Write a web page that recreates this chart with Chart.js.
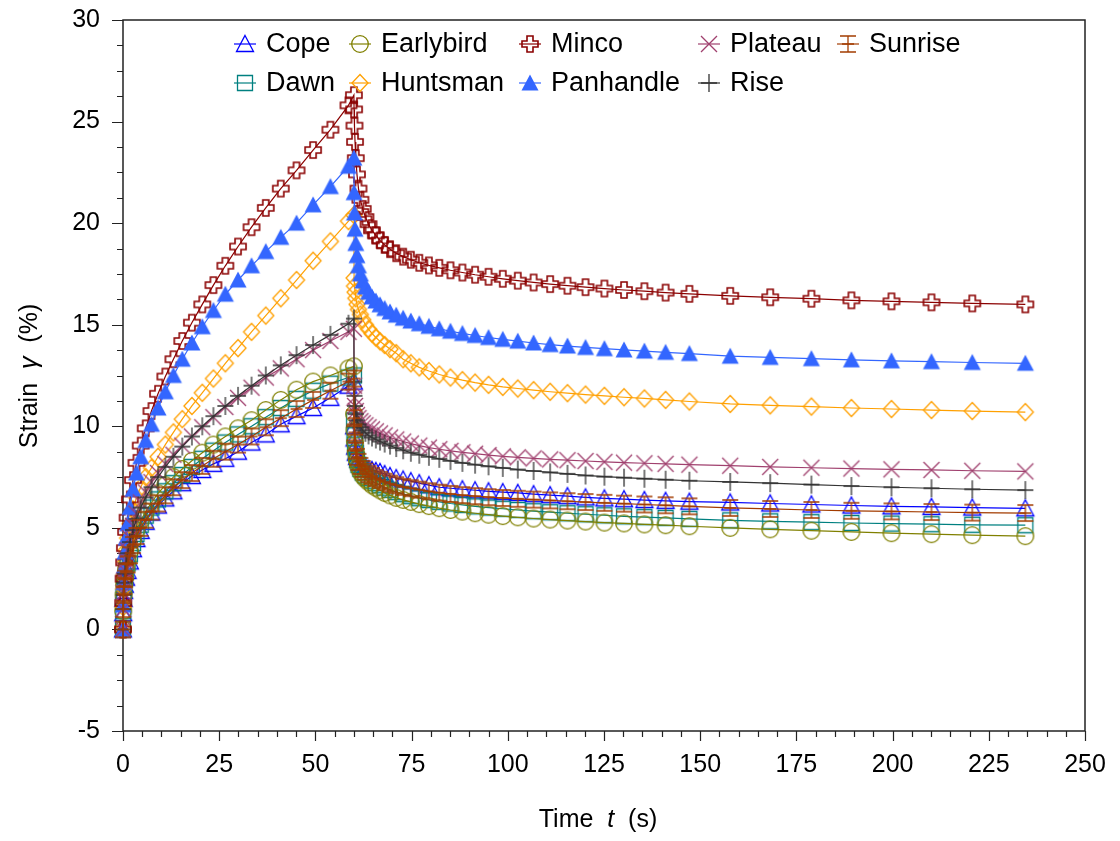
<!DOCTYPE html>
<html>
<head>
<meta charset="utf-8">
<script src="https://cdn.jsdelivr.net/npm/chart.js@4.4.1/dist/chart.umd.min.js"></script>
<style>
  html, body { margin: 0; padding: 0; background: #fff; }
  #myChart { display: block; }
</style>
</head>
<body>
<canvas id="myChart" width="1120" height="841"></canvas>
<script>
  // sample times (s): creep phase, then recovery after the load is removed at 60 s
  const timeCreep = [0, 0.05, 0.15, 0.3, 0.5, 0.8, 1.2, 1.8, 2.6, 3.5, 4.6, 5.9, 7.4, 9.1, 11, 13.1, 15.4, 17.9,
    20.6, 23.5, 26.6, 29.9, 33.4, 37.1, 41, 45.1, 49.4, 53.9, 58.6, 60];
  const timeRecovery = [60.05, 60.15, 60.3, 60.5, 60.8, 61.2, 61.7, 62.3, 63, 63.8, 64.7, 65.7, 66.8, 68, 69.4,
    71, 72.8, 74.8, 77, 79.5, 82.2, 85.1, 88.2, 91.5, 95, 98.7, 102.6, 106.7, 111, 115.5, 120.2, 125.1, 130.2,
    135.5, 141, 147.2, 157.8, 168.2, 178.9, 189.3, 199.7, 210.1, 220.7, 234.5];

  // strain (%) per variety
  const copeCreep = [0, 0.8, 1.5, 1.9, 2.2, 2.55, 2.88, 3.35, 3.95, 4.45, 4.85, 5.3, 5.75, 6.1, 6.45, 6.8, 7.2, 7.55,
    7.85, 8.15, 8.4, 8.75, 9.2, 9.6, 10.1, 10.5, 10.9, 11.4, 12.0, 12.2];
  const copeRecovery = [10.0, 9.4, 9.0, 8.7, 8.5, 8.35, 8.2, 8.1, 8.0, 7.9, 7.85, 7.8, 7.75, 7.65, 7.55, 7.45, 7.38,
    7.3, 7.2, 7.1, 7.0, 6.95, 6.9, 6.85, 6.8, 6.76, 6.72, 6.66, 6.61, 6.56, 6.5, 6.45, 6.41, 6.37, 6.33, 6.29, 6.25,
    6.2, 6.15, 6.1, 6.06, 6.03, 6.0, 5.96];

  const dawnCreep = [0, 0.9, 1.6, 2.1, 2.45, 2.85, 3.25, 3.7, 4.25, 4.7, 5.15, 5.6, 6.0, 6.4, 6.8, 7.2, 7.6, 8.0,
    8.4, 8.8, 9.2, 9.6, 10.0, 10.45, 10.9, 11.35, 11.75, 12.1, 12.4, 12.5];
  const dawnRecovery = [10.3, 9.6, 9.1, 8.7, 8.35, 8.1, 7.9, 7.72, 7.58, 7.45, 7.32, 7.2, 7.1, 6.98, 6.87, 6.76,
    6.66, 6.56, 6.46, 6.37, 6.28, 6.2, 6.13, 6.06, 6.0, 5.94, 5.88, 5.82, 5.77, 5.72, 5.67, 5.62, 5.57, 5.53, 5.49,
    5.44, 5.37, 5.32, 5.28, 5.24, 5.21, 5.18, 5.15, 5.13];

  const earlybirdCreep = [0, 0.9, 1.7, 2.2, 2.55, 2.95, 3.35, 3.85, 4.4, 4.9, 5.35, 5.8, 6.25, 6.7, 7.1, 7.5, 7.9,
    8.3, 8.7, 9.1, 9.5, 9.9, 10.3, 10.8, 11.3, 11.8, 12.2, 12.5, 12.85, 12.95];
  const earlybirdRecovery = [10.6, 9.8, 9.2, 8.7, 8.3, 8.0, 7.75, 7.55, 7.4, 7.25, 7.1, 6.98, 6.85, 6.72, 6.6, 6.48,
    6.38, 6.28, 6.17, 6.07, 5.97, 5.88, 5.8, 5.72, 5.65, 5.58, 5.52, 5.46, 5.41, 5.36, 5.31, 5.26, 5.22, 5.17, 5.13,
    5.08, 5.0, 4.93, 4.86, 4.8, 4.74, 4.69, 4.64, 4.59];

  const huntsmanCreep = [0, 1.1, 2.0, 2.7, 3.3, 3.9, 4.5, 5.2, 5.9, 6.5, 7.0, 7.5, 7.95, 8.5, 9.1, 9.7, 10.35, 11.0,
    11.65, 12.35, 13.1, 13.85, 14.65, 15.45, 16.3, 17.2, 18.15, 19.1, 20.1, 20.4];
  const huntsmanRecovery = [17.3, 16.9, 16.6, 16.3, 16.0, 15.75, 15.5, 15.25, 15.0, 14.78, 14.57, 14.37, 14.18, 14.0,
    13.8, 13.6, 13.3, 13.1, 12.9, 12.72, 12.55, 12.4, 12.27, 12.15, 12.04, 11.94, 11.86, 11.78, 11.7, 11.63, 11.56,
    11.5, 11.43, 11.37, 11.3, 11.22, 11.1, 11.03, 10.97, 10.9, 10.85, 10.8, 10.75, 10.7];

  const mincoCreep = [0, 1.3, 2.5, 3.3, 4.0, 4.8, 5.5, 6.4, 7.35, 8.2, 9.05, 9.9, 10.75, 11.6, 12.45, 13.3, 14.2,
    15.1, 16.0, 16.95, 17.9, 18.85, 19.8, 20.75, 21.7, 22.6, 23.6, 24.6, 25.8, 26.3];
  const mincoRecovery = [25.6, 24.8, 24.0, 23.2, 22.4, 21.7, 21.15, 20.7, 20.3, 19.95, 19.65, 19.4, 19.15, 18.93,
    18.72, 18.52, 18.35, 18.2, 18.05, 17.92, 17.8, 17.68, 17.57, 17.46, 17.36, 17.26, 17.17, 17.08, 17.0, 16.92,
    16.85, 16.78, 16.71, 16.65, 16.58, 16.52, 16.42, 16.35, 16.28, 16.2, 16.15, 16.1, 16.05, 16.0];

  const panhandleCreep = [0, 1.2, 2.3, 3.1, 3.8, 4.5, 5.2, 6.0, 6.9, 7.7, 8.5, 9.3, 10.1, 10.9, 11.7, 12.5, 13.3,
    14.1, 14.9, 15.7, 16.5, 17.2, 17.9, 18.6, 19.3, 20.0, 20.9, 21.8, 22.8, 23.2];
  const panhandleRecovery = [21.5, 20.5, 19.7, 19.0, 18.4, 17.9, 17.5, 17.15, 16.85, 16.6, 16.37, 16.17, 15.98, 15.8,
    15.63, 15.47, 15.32, 15.18, 15.05, 14.92, 14.8, 14.68, 14.57, 14.47, 14.37, 14.28, 14.19, 14.1, 14.02, 13.95,
    13.88, 13.82, 13.76, 13.7, 13.64, 13.58, 13.45, 13.39, 13.33, 13.27, 13.22, 13.18, 13.14, 13.1];

  const plateauCreep = [0, 1.0, 1.8, 2.4, 2.9, 3.4, 3.9, 4.5, 5.1, 5.7, 6.25, 6.75, 7.25, 7.7, 8.15, 8.6, 9.05, 9.5,
    9.95, 10.45, 10.95, 11.4, 11.9, 12.4, 12.85, 13.3, 13.75, 14.2, 14.65, 14.8];
  const plateauRecovery = [12.0, 11.4, 11.0, 10.75, 10.55, 10.4, 10.25, 10.15, 10.05, 9.95, 9.85, 9.75, 9.65, 9.55,
    9.45, 9.35, 9.25, 9.15, 9.05, 8.95, 8.87, 8.79, 8.72, 8.65, 8.58, 8.52, 8.47, 8.42, 8.37, 8.33, 8.29, 8.25, 8.21,
    8.18, 8.15, 8.11, 8.06, 8.0, 7.96, 7.92, 7.88, 7.85, 7.81, 7.78];

  const riseCreep = [0, 1.0, 1.7, 2.3, 2.75, 3.25, 3.75, 4.3, 4.9, 5.45, 6.0, 6.5, 7.0, 7.5, 8.0, 8.5, 9.0, 9.5, 10.0,
    10.5, 11.0, 11.5, 12.0, 12.5, 13.0, 13.5, 14.0, 14.5, 15.05, 15.3];
  const riseRecovery = [12.2, 11.5, 11.0, 10.6, 10.3, 10.1, 9.95, 9.8, 9.68, 9.55, 9.45, 9.35, 9.25, 9.15, 9.05, 8.93,
    8.82, 8.7, 8.6, 8.5, 8.4, 8.3, 8.2, 8.11, 8.03, 7.95, 7.87, 7.8, 7.73, 7.66, 7.58, 7.52, 7.47, 7.42, 7.37, 7.32,
    7.26, 7.2, 7.13, 7.06, 7.0, 6.95, 6.9, 6.86];

  const sunriseCreep = [0, 1.0, 1.7, 2.15, 2.5, 2.85, 3.2, 3.65, 4.15, 4.6, 5.0, 5.4, 5.8, 6.2, 6.6, 7.0, 7.35, 7.7,
    8.05, 8.4, 8.75, 9.1, 9.5, 9.95, 10.4, 10.85, 11.3, 11.75, 12.2, 12.35];
  const sunriseRecovery = [10.4, 9.7, 9.2, 8.8, 8.5, 8.25, 8.05, 7.9, 7.77, 7.65, 7.55, 7.45, 7.36, 7.27, 7.18, 7.1,
    7.02, 6.95, 6.88, 6.8, 6.73, 6.67, 6.61, 6.56, 6.51, 6.47, 6.43, 6.39, 6.35, 6.31, 6.27, 6.23, 6.19, 6.15, 6.11,
    6.06, 5.98, 5.93, 5.88, 5.84, 5.81, 5.78, 5.75, 5.73];

  const xTicks = [0, 25, 50, 75, 100, 125, 150, 175, 200, 225, 250];
  const yTicks = [-5, 0, 5, 10, 15, 20, 25, 30];

  const FONT = '"Liberation Sans", Arial, sans-serif';

  // hand drawn markers, the built-in point styles don't have all of these
  function marker(kind, color) {
    const s = 22, m = s / 2, r = 8;
    const c = document.createElement('canvas');
    c.width = s; c.height = s;
    const g = c.getContext('2d');
    g.strokeStyle = color;
    g.fillStyle = color;
    g.lineWidth = 1.3;
    g.beginPath();
    if (kind === 'tri' || kind === 'triFill') {
      g.moveTo(m, m - r - 0.5);
      g.lineTo(m + r + 0.5, m + r - 0.5);
      g.lineTo(m - r - 0.5, m + r - 0.5);
      g.closePath();
      if (kind === 'triFill') g.fill(); else g.stroke();
    } else if (kind === 'circle') {
      g.arc(m, m, r + 0.3, 0, Math.PI * 2);
      g.stroke();
    } else if (kind === 'square') {
      g.rect(m - 7.5, m - 7.5, 15, 15);
      g.stroke();
    } else if (kind === 'diamond') {
      g.moveTo(m, m - r - 0.5);
      g.lineTo(m + r, m);
      g.lineTo(m, m + r + 0.5);
      g.lineTo(m - r, m);
      g.closePath();
      g.stroke();
    } else if (kind === 'plusHollow') {
      const a = 3;
      g.moveTo(m - a, m - r); g.lineTo(m + a, m - r); g.lineTo(m + a, m - a); g.lineTo(m + r, m - a);
      g.lineTo(m + r, m + a); g.lineTo(m + a, m + a); g.lineTo(m + a, m + r); g.lineTo(m - a, m + r);
      g.lineTo(m - a, m + a); g.lineTo(m - r, m + a); g.lineTo(m - r, m - a); g.lineTo(m - a, m - a);
      g.closePath();
      g.lineWidth = 1.6;
      g.stroke();
    } else if (kind === 'cross') {
      g.moveTo(m - r, m - r); g.lineTo(m + r, m + r);
      g.moveTo(m + r, m - r); g.lineTo(m - r, m + r);
      g.stroke();
    } else if (kind === 'plus') {
      g.moveTo(m, m - 9); g.lineTo(m, m + 9);
      g.moveTo(m - 8, m); g.lineTo(m + 8, m);
      g.stroke();
    } else if (kind === 'ibeam') {
      g.moveTo(m - 8, m - 8); g.lineTo(m + 8, m - 8);
      g.moveTo(m - 8, m + 8); g.lineTo(m + 8, m + 8);
      g.moveTo(m, m - 8); g.lineTo(m, m + 8);
      g.moveTo(m - 6, m); g.lineTo(m + 6, m);
      g.stroke();
    }
    return c;
  }

  function series(creep, recovery) {
    const pts = creep.map((v, i) => ({ x: timeCreep[i], y: v }));
    return pts.concat(recovery.map((v, i) => ({ x: timeRecovery[i], y: v })));
  }

  // legend slot: [column, row]
  const varieties = [
    { label: 'Cope', color: '#0000ff', shape: 'tri', creep: copeCreep, rec: copeRecovery, slot: [0, 0] },
    { label: 'Dawn', color: '#008080', shape: 'square', creep: dawnCreep, rec: dawnRecovery, slot: [0, 1] },
    { label: 'Earlybird', color: '#808000', shape: 'circle', creep: earlybirdCreep, rec: earlybirdRecovery, slot: [1, 0] },
    { label: 'Huntsman', color: '#ffa000', shape: 'diamond', creep: huntsmanCreep, rec: huntsmanRecovery, slot: [1, 1] },
    { label: 'Minco', color: '#8b0000', shape: 'plusHollow', creep: mincoCreep, rec: mincoRecovery, slot: [2, 0] },
    { label: 'Panhandle', color: '#3366ff', shape: 'triFill', creep: panhandleCreep, rec: panhandleRecovery, slot: [2, 1] },
    { label: 'Plateau', color: '#a0406e', shape: 'cross', creep: plateauCreep, rec: plateauRecovery, slot: [3, 0] },
    { label: 'Rise', color: '#333333', shape: 'plus', creep: riseCreep, rec: riseRecovery, slot: [3, 1] },
    { label: 'Sunrise', color: '#a33c00', shape: 'ibeam', creep: sunriseCreep, rec: sunriseRecovery, slot: [4, 0] }
  ];
  varieties.forEach(v => { v.img = marker(v.shape, v.color); });

  const legendCols = [245, 360, 530, 709, 848];
  const legendRows = [44, 83];

  const decor = {
    id: 'decor',
    beforeDatasetsDraw(chart) {
      const { ctx, chartArea: a, scales: { x, y } } = chart;
      ctx.save();
      ctx.strokeStyle = '#222';
      ctx.lineWidth = 1.5;
      ctx.strokeRect(a.left, a.top, a.right - a.left, a.bottom - a.top);
      ctx.lineWidth = 1.2;
      ctx.beginPath();
      for (let v = 0; v <= 250; v += 5) {
        const px = Math.round(x.getPixelForValue(v)) + 0.5;
        const len = v % 25 === 0 ? 10 : 6;
        ctx.moveTo(px, a.bottom);
        ctx.lineTo(px, a.bottom + len);
      }
      for (let k = 0; k <= 28; k++) {
        const v = -5 + k * 1.25;
        const py = Math.round(y.getPixelForValue(v)) + 0.5;
        const len = k % 4 === 0 ? 11 : 6;
        ctx.moveTo(a.left, py);
        ctx.lineTo(a.left - len, py);
      }
      ctx.stroke();
      ctx.restore();
    },
    afterDraw(chart) {
      const ctx = chart.ctx;
      ctx.save();
      ctx.fillStyle = '#000';
      ctx.textBaseline = 'middle';

      // legend
      varieties.forEach(v => {
        const cx = legendCols[v.slot[0]], cy = legendRows[v.slot[1]];
        ctx.strokeStyle = v.color;
        ctx.lineWidth = 1.2;
        ctx.beginPath();
        ctx.moveTo(cx - 11, cy);
        ctx.lineTo(cx + 11, cy);
        ctx.stroke();
        ctx.drawImage(v.img, cx - v.img.width / 2, cy - v.img.height / 2);
        ctx.font = '27px ' + FONT;
        ctx.textAlign = 'left';
        ctx.fillText(v.label, cx + 21, cy + 1);
      });

      // axis titles with italic symbols
      const drawParts = (parts, cx, cy) => {
        let w = 0;
        parts.forEach(p => { ctx.font = p[1] + '25px ' + FONT; w += ctx.measureText(p[0]).width; });
        let px = cx - w / 2;
        ctx.textAlign = 'left';
        parts.forEach(p => {
          ctx.font = p[1] + '25px ' + FONT;
          ctx.fillText(p[0], px, cy);
          px += ctx.measureText(p[0]).width;
        });
      };
      drawParts([['Time  ', ''], ['t', 'italic '], ['  (s)', '']], 598, 820);
      ctx.translate(30, 376);
      ctx.rotate(-Math.PI / 2);
      drawParts([['Strain  ', ''], ['\u03b3', 'italic '], ['  (%)', '']], 0, 0);
      ctx.restore();
    }
  };

  // invisible tick marks that only reserve room for the labels (real ticks come from the decor plugin)
  const hiddenGrid = (len) => ({
    display: true, drawOnChartArea: false, drawTicks: true, tickLength: len,
    color: 'rgba(0,0,0,0)', tickColor: 'rgba(0,0,0,0)'
  });

  const ctx = document.getElementById('myChart').getContext('2d');

  const myChart = new Chart(ctx, {
    type: 'line',
    data: {
      datasets: varieties.map((v, i) => ({
        label: v.label,
        data: series(v.creep, v.rec),
        borderColor: v.color,
        backgroundColor: v.color,
        borderWidth: 1.2,
        pointStyle: v.img,
        pointRadius: 8,
        tension: 0,
        clip: false,
        order: varieties.length - 1 - i
      }))
    },
    options: {
      responsive: false,
      animation: false,
      events: [],
      layout: { padding: { left: 0, right: 35, top: 20, bottom: 0 } },
      plugins: { legend: { display: false }, tooltip: { enabled: false } },
      scales: {
        x: {
          type: 'linear',
          min: 0,
          max: 250,
          afterBuildTicks: s => { s.ticks = xTicks.map(v => ({ value: v })); },
          afterFit: s => { s.height = 110; },
          ticks: { color: '#000', font: { family: FONT, size: 25 }, padding: 2, maxRotation: 0 },
          grid: hiddenGrid(17),
          border: { display: false }
        },
        y: {
          type: 'linear',
          min: -5,
          max: 30,
          afterBuildTicks: s => { s.ticks = yTicks.map(v => ({ value: v })); },
          afterFit: s => { s.width = 123; },
          ticks: { color: '#000', font: { family: FONT, size: 25 }, padding: 2 },
          grid: hiddenGrid(21),
          border: { display: false }
        }
      }
    },
    plugins: [decor]
  });
</script>
</body>
</html>
